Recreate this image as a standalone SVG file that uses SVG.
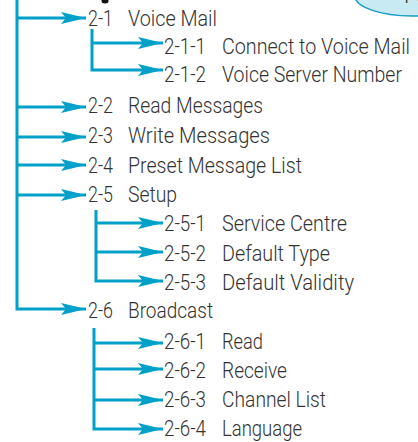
<svg xmlns="http://www.w3.org/2000/svg" width="418" height="442" viewBox="0 0 418 442">
<style>
.ln{fill:none;stroke:#00a0c8;stroke-width:3}
.t{font-family:Roboto,"Liberation Sans",sans-serif;font-weight:300;font-size:22px;fill:#333}
</style>
<defs>
<marker id="ah" markerUnits="userSpaceOnUse" markerWidth="26" markerHeight="14" viewBox="0 0 26 14" refX="25" refY="7" orient="auto">
<path d="M0,1 L25,7 L0,13 L5,7 Z" fill="#00a0c8"/>
</marker>
</defs>
<rect width="418" height="442" fill="#fff"/>
<g id="cloud">
<ellipse cx="412" cy="-4" rx="57" ry="20" fill="#c8eaf3" stroke="#1a9cc4" stroke-width="1.5"/>
<text x="404" y="3" class="t" font-size="18">Fe</text>
</g>
<ellipse cx="105" cy="1" rx="3.5" ry="2.5" fill="#111"/>
<g id="connectors">
<path class="ln" d="M17,0 V309 H86" marker-end="url(#ah)"/>
<path class="ln" d="M17,18 H86" marker-end="url(#ah)"/>
<path class="ln" d="M17,107 H86" marker-end="url(#ah)"/>
<path class="ln" d="M17,137 H86" marker-end="url(#ah)"/>
<path class="ln" d="M17,165 H86" marker-end="url(#ah)"/>
<path class="ln" d="M17,195 H86" marker-end="url(#ah)"/>
<path class="ln" d="M92,29 V70 H163" marker-end="url(#ah)"/>
<path class="ln" d="M92,43 H163" marker-end="url(#ah)"/>
<path class="ln" d="M96,210 V281 H163" marker-end="url(#ah)"/>
<path class="ln" d="M96,223 H163" marker-end="url(#ah)"/>
<path class="ln" d="M96,252 H163" marker-end="url(#ah)"/>
<path class="ln" d="M94,328 V429 H163" marker-end="url(#ah)"/>
<path class="ln" d="M94,343 H163" marker-end="url(#ah)"/>
<path class="ln" d="M94,369 H163" marker-end="url(#ah)"/>
<path class="ln" d="M94,400 H163" marker-end="url(#ah)"/>
</g>
<g id="n2-1"><text class="t" y="26"><tspan x="88" textLength="25" lengthAdjust="spacingAndGlyphs">2-1</tspan><tspan x="128" textLength="89" lengthAdjust="spacingAndGlyphs">Voice Mail</tspan></text></g>
<g id="n2-1-1"><text class="t" y="54"><tspan x="164" textLength="42" lengthAdjust="spacingAndGlyphs">2-1-1</tspan><tspan x="222" textLength="188" lengthAdjust="spacingAndGlyphs">Connect to Voice Mail</tspan></text></g>
<g id="n2-1-2"><text class="t" y="82"><tspan x="164" textLength="42" lengthAdjust="spacingAndGlyphs">2-1-2</tspan><tspan x="222" textLength="180" lengthAdjust="spacingAndGlyphs">Voice Server Number</tspan></text></g>
<g id="n2-2"><text class="t" y="113"><tspan x="88" textLength="25" lengthAdjust="spacingAndGlyphs">2-2</tspan><tspan x="128" textLength="135" lengthAdjust="spacingAndGlyphs">Read Messages</tspan></text></g>
<g id="n2-3"><text class="t" y="143"><tspan x="88" textLength="25" lengthAdjust="spacingAndGlyphs">2-3</tspan><tspan x="128" textLength="142" lengthAdjust="spacingAndGlyphs">Write Messages</tspan></text></g>
<g id="n2-4"><text class="t" y="173"><tspan x="88" textLength="25" lengthAdjust="spacingAndGlyphs">2-4</tspan><tspan x="128" textLength="174" lengthAdjust="spacingAndGlyphs">Preset Message List</tspan></text></g>
<g id="n2-5"><text class="t" y="202"><tspan x="88" textLength="25" lengthAdjust="spacingAndGlyphs">2-5</tspan><tspan x="128" textLength="49" lengthAdjust="spacingAndGlyphs">Setup</tspan></text></g>
<g id="n2-5-1"><text class="t" y="231"><tspan x="164" textLength="42" lengthAdjust="spacingAndGlyphs">2-5-1</tspan><tspan x="222" textLength="125" lengthAdjust="spacingAndGlyphs">Service Centre</tspan></text></g>
<g id="n2-5-2"><text class="t" y="261"><tspan x="164" textLength="42" lengthAdjust="spacingAndGlyphs">2-5-2</tspan><tspan x="222" textLength="108" lengthAdjust="spacingAndGlyphs">Default Type</tspan></text></g>
<g id="n2-5-3"><text class="t" y="290"><tspan x="164" textLength="42" lengthAdjust="spacingAndGlyphs">2-5-3</tspan><tspan x="222" textLength="132" lengthAdjust="spacingAndGlyphs">Default Validity</tspan></text></g>
<g id="n2-6"><text class="t" y="318"><tspan x="88" textLength="25" lengthAdjust="spacingAndGlyphs">2-6</tspan><tspan x="128" textLength="85" lengthAdjust="spacingAndGlyphs">Broadcast</tspan></text></g>
<g id="n2-6-1"><text class="t" y="349"><tspan x="164" textLength="42" lengthAdjust="spacingAndGlyphs">2-6-1</tspan><tspan x="222" textLength="41" lengthAdjust="spacingAndGlyphs">Read</tspan></text></g>
<g id="n2-6-2"><text class="t" y="378"><tspan x="164" textLength="42" lengthAdjust="spacingAndGlyphs">2-6-2</tspan><tspan x="222" textLength="65" lengthAdjust="spacingAndGlyphs">Receive</tspan></text></g>
<g id="n2-6-3"><text class="t" y="407"><tspan x="164" textLength="42" lengthAdjust="spacingAndGlyphs">2-6-3</tspan><tspan x="222" textLength="104" lengthAdjust="spacingAndGlyphs">Channel List</tspan></text></g>
<g id="n2-6-4"><text class="t" y="436"><tspan x="164" textLength="42" lengthAdjust="spacingAndGlyphs">2-6-4</tspan><tspan x="222" textLength="80" lengthAdjust="spacingAndGlyphs">Language</tspan></text></g>
</svg>
